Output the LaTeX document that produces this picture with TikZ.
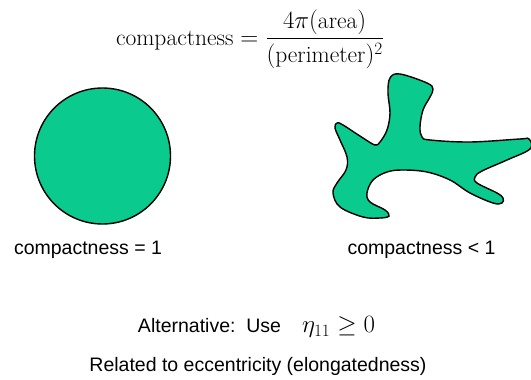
\documentclass[tikz,border=0pt]{standalone}
\usepackage{amsmath}
\usepackage{fontspec}
\newfontfamily\arial{Liberation Sans}
\definecolor{shapegreen}{RGB}{10,202,142}
\begin{document}
\begin{tikzpicture}[x=1pt,y=-1pt,
  shapefill/.style={fill=shapegreen,draw=black,line width=1.4pt},
  label/.style={font=\arial\fontsize{19.5}{22}\selectfont,inner sep=0pt,anchor=center}]
\useasboundingbox (0,0) rectangle (531,380);
\node[inner sep=0pt] (formula) at (250,39) {\fontsize{23.5}{27}\selectfont $\displaystyle \text{compactness} = \frac{4\pi(\text{area})}{(\text{perimeter})^2}$};
\draw[shapefill] (102.5,156) circle (68);
\draw[shapefill] plot[smooth cycle,tension=0.6] coordinates {
(390,78) (400,74) (427,83) (433,89) (430,97) (423,110) (420,127) (422,137) (430,140)
(470,142) (520,139) (529,139) (530,149) (507,160) (482,171) (475,177)
(477,183) (497,193) (503,198) (502,203) (493,203) (470,193) (450,180) (427,172)
(403,170) (387,172) (373,180) (367,193) (370,202) (385,210) (389,216) (380,218)
(363,217) (340,207) (333,193) (337,183) (346,170) (347,157) (340,140) (335,128)
(337,123) (343,125) (363,138) (375,145) (380,142) (387,130) (390,113) (388,93)};
\node[label] (c1) at (88,250) {compactness = 1};
\node[label] (c2) at (421.5,250) {compactness < 1};
\node[label] (alt) at (256.5,327) {Alternative:\ \ Use\hspace{21pt}{\fontsize{23.5}{27}\selectfont$\eta_{11} \geq 0$}};
\node[label] (rel) at (258,366) {Related to eccentricity (elongatedness)};
\end{tikzpicture}
\end{document}
